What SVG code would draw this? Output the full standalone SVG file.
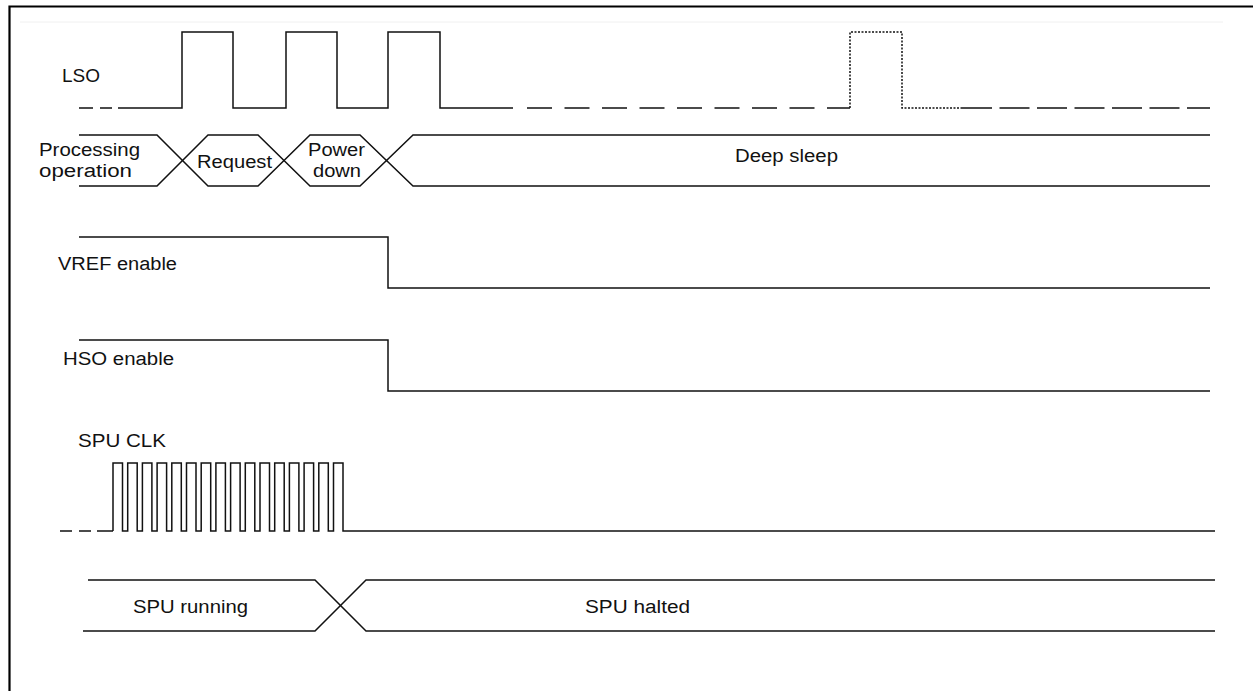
<svg xmlns="http://www.w3.org/2000/svg" width="1253" height="691" viewBox="0 0 1253 691">
<style>
.sig{fill:none;stroke:#111;stroke-width:1.5;stroke-linejoin:miter}
.frame{fill:none;stroke:#000;stroke-width:2.2}
.t{font-family:"Liberation Sans",Arial,sans-serif;font-size:18px;fill:#111}
.dot{fill:none;stroke:#111;stroke-width:1.5;stroke-dasharray:2 1.5}
</style>
<rect width="1253" height="691" fill="#fff"/>
<g id="frame">
<path class="frame" d="M9.5,691 V6.5 H1253"/>
<line x1="20" y1="22" x2="1223" y2="22" stroke="#f0f0f0" stroke-width="1"/>
</g>
<g id="lso">
<text class="t" x="62" y="82" textLength="38" lengthAdjust="spacingAndGlyphs">LSO</text>
<path class="sig" d="M79,108 H93 M100,108 H112 M118,108 H130"/>
<path class="sig" d="M130,108 H182 V32 H233 V108 H286 V32 H337 V108 H388 V32 H440 V108 H513"/>
<path class="sig" stroke-dasharray="25 12.5" d="M527,108 H850"/>
<path class="dot" d="M850,108 V32 H902 V108 H962"/>
<path class="sig" stroke-dasharray="30 7.5" d="M962,108 H1210"/>
</g>
<g id="state">
<path class="sig" d="M79,135 H157 L208,186 H258 L310,135 H360 L413,186 H1210"/>
<path class="sig" d="M79,186 H157 L208,135 H258 L310,186 H360 L413,135 H1210"/>
<text class="t" x="39" y="156" textLength="101" lengthAdjust="spacingAndGlyphs">Processing</text>
<text class="t" x="39" y="177" textLength="93" lengthAdjust="spacingAndGlyphs">operation</text>
<text class="t" x="197" y="168" textLength="75" lengthAdjust="spacingAndGlyphs">Request</text>
<text class="t" x="308" y="156" textLength="57" lengthAdjust="spacingAndGlyphs">Power</text>
<text class="t" x="313" y="177" textLength="48" lengthAdjust="spacingAndGlyphs">down</text>
<text class="t" x="735" y="162" textLength="103" lengthAdjust="spacingAndGlyphs">Deep sleep</text>
</g>
<g id="vref">
<text class="t" x="58" y="270" textLength="119" lengthAdjust="spacingAndGlyphs">VREF enable</text>
<path class="sig" d="M79,237 H388 V288 H1210"/>
</g>
<g id="hso">
<text class="t" x="63" y="365" textLength="111" lengthAdjust="spacingAndGlyphs">HSO enable</text>
<path class="sig" d="M79,340 H388 V391 H1210"/>
</g>
<g id="spuclk">
<text class="t" x="78" y="447" textLength="88" lengthAdjust="spacingAndGlyphs">SPU CLK</text>
<path class="sig" d="M60,531 H72 M79,531 H91 M97,531 H113"/>
<path class="sig" d="M113,531 V463 H122.5 V531 H127.7 V463 H137.2 V531 H142.4 V463 H151.9 V531 H157.1 V463 H166.6 V531 H171.8 V463 H181.3 V531 H186.5 V463 H196 V531 H201.2 V463 H210.7 V531 H215.9 V463 H225.4 V531 H230.6 V463 H240.1 V531 H245.3 V463 H254.8 V531 H260 V463 H269.5 V531 H274.7 V463 H284.2 V531 H289.4 V463 H298.9 V531 H304.1 V463 H313.6 V531 H318.8 V463 H328.3 V531 H333.5 V463 H343 V531 H1215"/>
</g>
<g id="spustate">
<path class="sig" d="M88,580 H315 L366,631 H1215"/>
<path class="sig" d="M83,631 H315 L366,580 H1215"/>
<text class="t" x="133" y="613" textLength="115" lengthAdjust="spacingAndGlyphs">SPU running</text>
<text class="t" x="585" y="613" textLength="105" lengthAdjust="spacingAndGlyphs">SPU halted</text>
</g>
<g id="connectors"/>
</svg>
